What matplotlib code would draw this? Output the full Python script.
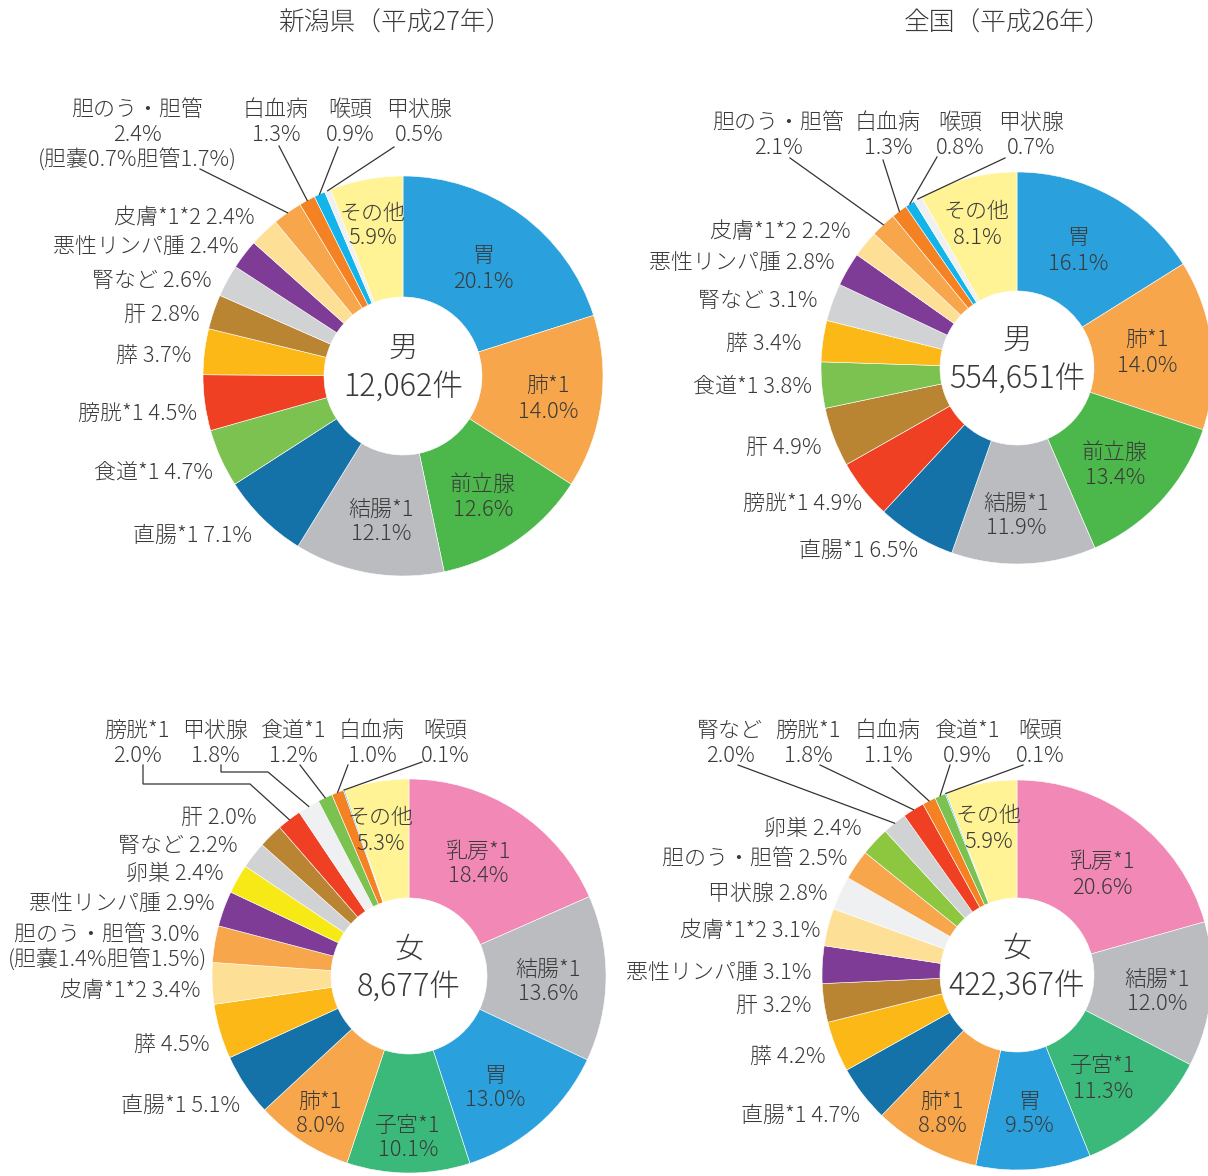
import matplotlib
matplotlib.use("Agg")
import matplotlib.pyplot as plt
import numpy as np

plt.rcParams['font.family'] = ['Noto Sans CJK JP', 'DejaVu Sans']

# ---------------- data ----------------
titles = ['新潟県（平成27年）', '全国（平成26年）']

nig_m_labels = ['胃', '肺*1', '前立腺', '結腸*1', '直腸*1', '食道*1', '膀胱*1', '膵', '肝', '腎など',
                '悪性リンパ腫', '皮膚*1*2', '胆のう・胆管', '白血病', '喉頭', '甲状腺', 'その他']
nig_m_values = [20.1, 14.0, 12.6, 12.1, 7.1, 4.7, 4.5, 3.7, 2.8, 2.6, 2.4, 2.4, 2.4, 1.3, 0.9, 0.5, 5.9]

jp_m_labels = ['胃', '肺*1', '前立腺', '結腸*1', '直腸*1', '膀胱*1', '肝', '食道*1', '膵', '腎など',
               '悪性リンパ腫', '皮膚*1*2', '胆のう・胆管', '白血病', '喉頭', '甲状腺', 'その他']
jp_m_values = [16.1, 14.0, 13.4, 11.9, 6.5, 4.9, 4.9, 3.8, 3.4, 3.1, 2.8, 2.2, 2.1, 1.3, 0.8, 0.7, 8.1]

nig_f_labels = ['乳房*1', '結腸*1', '胃', '子宮*1', '肺*1', '直腸*1', '膵', '皮膚*1*2', '胆のう・胆管',
                '悪性リンパ腫', '卵巣', '腎など', '肝', '膀胱*1', '甲状腺', '食道*1', '白血病', '喉頭', 'その他']
nig_f_values = [18.4, 13.6, 13.0, 10.1, 8.0, 5.1, 4.5, 3.4, 3.0, 2.9, 2.4, 2.2, 2.0, 2.0, 1.8, 1.2, 1.0, 0.1, 5.3]

jp_f_labels = ['乳房*1', '結腸*1', '子宮*1', '胃', '肺*1', '直腸*1', '膵', '肝', '悪性リンパ腫', '皮膚*1*2',
               '甲状腺', '胆のう・胆管', '卵巣', '腎など', '膀胱*1', '白血病', '食道*1', '喉頭', 'その他']
jp_f_values = [20.6, 12.0, 11.3, 9.5, 8.8, 4.7, 4.2, 3.2, 3.1, 3.1, 2.8, 2.5, 2.4, 2.0, 1.8, 1.1, 0.9, 0.1, 5.9]

sex_labels = ['男', '男', '女', '女']
totals = ['12,062件', '554,651件', '8,677件', '422,367件']
notes = {0: '(胆嚢0.7%胆管1.7%)', 2: '(胆嚢1.4%胆管1.5%)'}

# ---------------- styles ----------------
colors = {
    '胃': '#2aa1dc', '肺*1': '#f7a64b', '前立腺': '#4cb84b', '結腸*1': '#bbbcc0',
    '直腸*1': '#1572a8', '食道*1': '#7cc251', '膀胱*1': '#ef4024', '膵': '#fcb817',
    '肝': '#b98532', '腎など': '#d1d2d4', '悪性リンパ腫': '#7f3c96', '皮膚*1*2': '#fddf95',
    '胆のう・胆管': '#f7a64b', '白血病': '#f48222', '喉頭': '#13b4ea', '甲状腺': '#eef0f2',
    'その他': '#fff395', '乳房*1': '#f288b5', '子宮*1': '#3bb97a', '卵巣': '#f7e916',
}
color_override = {3: {'卵巣': '#8dc63f'}}
TXT = '#3a3a3a'
W, H = 1208, 1176

# geometry (pixels, y from top)
geom = [(403, 376, 200, 79), (1017, 368, 196, 77), (409, 976, 197, 78), (1017, 975, 195, 77)]

# label placement: kind, x, y ; leader waypoints
layouts = [
    {
        '胃': ('in', 483, 266), '肺*1': ('in', 548, 396), '前立腺': ('in', 483, 494),
        '結腸*1': ('in', 381, 519), 'その他': ('in', 373, 223),
        '直腸*1': ('side', 252, 533), '食道*1': ('side', 213, 470), '膀胱*1': ('side', 197, 411),
        '膵': ('side', 191, 353), '肝': ('side', 200, 312), '腎など': ('side', 212, 278),
        '悪性リンパ腫': ('side', 239, 244), '皮膚*1*2': ('side', 255, 215),
        '胆のう・胆管': ('top', 137, 107), '白血病': ('top', 276, 107),
        '喉頭': ('top', 350, 107), '甲状腺': ('top', 419, 107),
    },
    {
        '胃': ('in', 1078, 248), '肺*1': ('in', 1147, 350), '前立腺': ('in', 1115, 462),
        '結腸*1': ('in', 1016, 513), 'その他': ('in', 977, 222),
        '直腸*1': ('side', 918, 548), '膀胱*1': ('side', 862, 501), '肝': ('side', 822, 445),
        '食道*1': ('side', 812, 384), '膵': ('side', 802, 341), '腎など': ('side', 817, 298),
        '悪性リンパ腫': ('side', 835, 260), '皮膚*1*2': ('side', 851, 229),
        '胆のう・胆管': ('top', 778, 120), '白血病': ('top', 888, 120),
        '喉頭': ('top', 960, 120), '甲状腺': ('top', 1031, 120),
    },
    {
        '乳房*1': ('in', 478, 861), '結腸*1': ('in', 548, 979), '胃': ('in', 495, 1085),
        '子宮*1': ('in', 408, 1135), '肺*1': ('in', 320, 1111), 'その他': ('in', 381, 828),
        '直腸*1': ('side', 240, 1103), '膵': ('side', 210, 1042), '皮膚*1*2': ('side', 200, 988),
        '胆のう・胆管': ('note', 107, 932), '悪性リンパ腫': ('side', 215, 901),
        '卵巣': ('side', 224, 871), '腎など': ('side', 238, 843), '肝': ('side', 257, 815),
        '膀胱*1': ('top', 137, 728), '甲状腺': ('top', 215, 728), '食道*1': ('top', 293, 728),
        '白血病': ('top', 372, 728), '喉頭': ('top', 445, 728),
    },
    {
        '乳房*1': ('in', 1102, 872), '結腸*1': ('in', 1157, 989), '子宮*1': ('in', 1103, 1076),
        '胃': ('in', 1029, 1111), '肺*1': ('in', 942, 1111), 'その他': ('in', 989, 826),
        '直腸*1': ('side', 860, 1113), '膵': ('side', 826, 1054), '肝': ('side', 812, 1003),
        '悪性リンパ腫': ('side', 812, 970), '皮膚*1*2': ('side', 820, 928),
        '甲状腺': ('side', 828, 891), '胆のう・胆管': ('side', 847, 856), '卵巣': ('side', 862, 826),
        '腎など': ('top', 730, 728), '膀胱*1': ('top', 808, 728), '白血病': ('top', 888, 728),
        '食道*1': ('top', 967, 728), '喉頭': ('top', 1040, 728),
    },
]
leaders = [
    {'胆のう・胆管': [(200, 169)], '白血病': [(279, 146)], '喉頭': [(338, 147)], '甲状腺': [(394, 147)]},
    {'胆のう・胆管': [(790, 158)], '白血病': [(883, 160)], '喉頭': [(937, 157)], '甲状腺': [(1005, 158)]},
    {'膀胱*1': [(143, 765), (143, 784), (250, 784)], '甲状腺': [(221, 765), (221, 772), (268, 772)],
     '食道*1': [(300, 765)], '白血病': [(348, 765)], '喉頭': [(422, 762)]},
    {'腎など': [(738, 765)], '膀胱*1': [(820, 765)], '白血病': [(892, 767)],
     '食道*1': [(950, 765)], '喉頭': [(1023, 765)]},
]

FS = 15.8
LS = 25   # line step in px
DY = 3    # vertical text correction in px
FW = 'light'


def Y(y):
    return H - y


def txt(x, y, s, ha='center', fs=FS):
    ax.text(x, Y(y + DY), s, ha=ha, va='center', fontsize=fs, color=TXT, fontweight=FW)


fig = plt.figure(figsize=(W / 100, H / 100), dpi=100)
ax = fig.add_axes([0, 0, 1, 1])

charts = [(nig_m_labels, nig_m_values), (jp_m_labels, jp_m_values),
          (nig_f_labels, nig_f_values), (jp_f_labels, jp_f_values)]

for ci, (labs, vals) in enumerate(charts):
    cx, cy, R, r = geom[ci]
    cols = [color_override.get(ci, {}).get(l, colors[l]) for l in labs]
    ax.pie(vals, colors=cols, startangle=90, counterclock=False, center=(cx, Y(cy)), radius=R,
           wedgeprops=dict(width=R - r, edgecolor='white', linewidth=0.4))
    total = float(sum(vals))
    cum = np.cumsum([0] + list(vals))
    lay = layouts[ci]
    for i, (lab, v) in enumerate(zip(labs, vals)):
        pct = f'{v:.1f}%'
        kind, x, y = lay[lab]
        if kind == 'in':
            txt(x, y - LS / 2, lab)
            txt(x, y + LS / 2, pct)
        elif kind == 'side':
            txt(x, y, f'{lab} {pct}', ha='right')
        elif kind == 'note':
            txt(x, y, f'{lab} {pct}')
            txt(x, y + LS, notes[ci])
        elif kind == 'top':
            txt(x, y, lab)
            txt(x, y + LS, pct)
            if ci in notes and lab == '胆のう・胆管':
                txt(x, y + 2 * LS, notes[ci])
        if lab in leaders[ci]:
            mid = (cum[i] + v / 2) / total
            ang = np.deg2rad(90 - 360 * mid)
            ex, ey = cx + R * np.cos(ang), Y(cy) + R * np.sin(ang)
            pts = [(px, Y(py)) for px, py in leaders[ci][lab]] + [(ex, ey)]
            xs, ys = zip(*pts)
            ax.plot(xs, ys, color='#333333', lw=0.9, solid_joinstyle='miter')
    txt(cx, cy - 30, sex_labels[ci], fs=21)
    txt(cx, cy + 9, totals[ci], fs=22)

txt(395, 20, titles[0], fs=18.5)
txt(1008, 20, titles[1], fs=18.5)

ax.set_xlim(0, W)
ax.set_ylim(0, H)
ax.set_aspect('equal')
ax.axis('off')
fig.savefig('out.png', dpi=100, facecolor='white')
